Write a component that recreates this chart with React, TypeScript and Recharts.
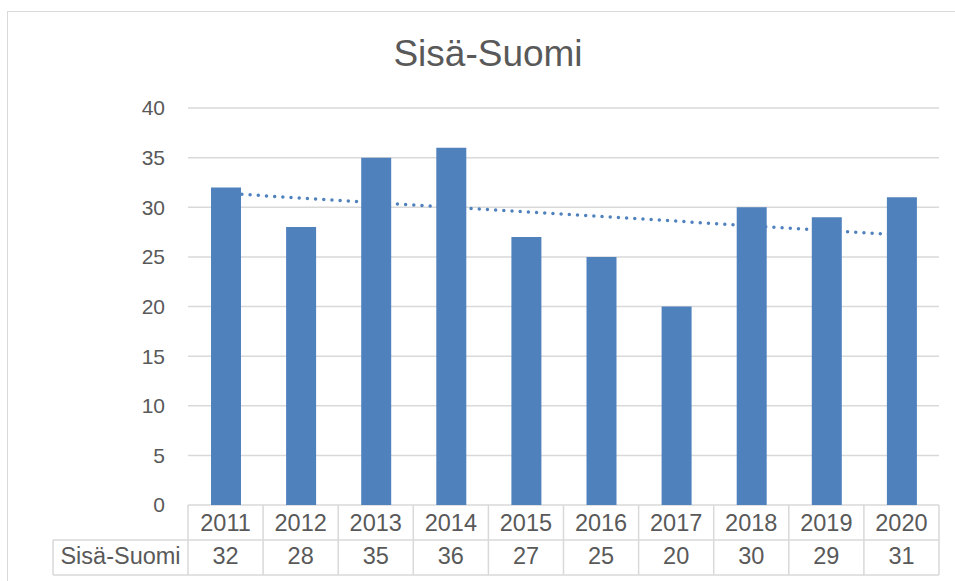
import React from 'react';
import { ComposedChart, Bar, XAxis, YAxis, CartesianGrid, ReferenceLine } from 'recharts';

const years = ['2011', '2012', '2013', '2014', '2015', '2016', '2017', '2018', '2019', '2020'];
const values = [32, 28, 35, 36, 27, 25, 20, 30, 29, 31];
const yTicks = [0, 5, 10, 15, 20, 25, 30, 35, 40];
const seriesName = 'Sisä-Suomi';
const titleText = 'Sisä-Suomi';
const trendStart = 31.4;
const trendEnd = 27.2;

const data = years.map((y, i) => ({ year: y, value: values[i] }));

const W = 955;
const H = 581;
const M = { top: 108, right: 16, bottom: 6, left: 128 };
const Y_W = 60;
const X_H = 70;
const PLOT_W = W - M.left - M.right - Y_W;
const BAND = PLOT_W / years.length;
const ROW = 35;
const LINE = '#d9d9d9';
const TEXT = '#595959';
const FONT = 'Liberation Sans, Arial, sans-serif';
const TFS = 23.5;

const TableTick = (props: any) => {
  const { x, y, payload } = props;
  const idx = payload.index;
  const left = x - BAND / 2;
  const right = x + BAND / 2;
  const top = y;
  const label = (
    <g>
      <line x1={right} y1={top} x2={right} y2={top + 2 * ROW} stroke={LINE} strokeWidth={1.5} />
      <text x={x} y={top + 26} textAnchor="middle" fill={TEXT} fontSize={TFS} fontFamily={FONT}>
        {payload.value}
      </text>
      <text x={x} y={top + ROW + 24} textAnchor="middle" fill={TEXT} fontSize={TFS} fontFamily={FONT}>
        {values[idx]}
      </text>
    </g>
  );
  if (idx !== 0) return label;
  const tableLeft = left - 135;
  const tableRight = left + PLOT_W;
  return (
    <g>
      <line x1={left} y1={top} x2={left} y2={top + 2 * ROW} stroke={LINE} strokeWidth={1.5} />
      <line x1={tableLeft} y1={top + ROW} x2={tableLeft} y2={top + 2 * ROW} stroke={LINE} strokeWidth={1.5} />
      <line x1={tableLeft} y1={top + ROW} x2={tableRight} y2={top + ROW} stroke={LINE} strokeWidth={1.5} />
      <line x1={tableLeft} y1={top + 2 * ROW} x2={tableRight} y2={top + 2 * ROW} stroke={LINE} strokeWidth={1.5} />
      <text x={(tableLeft + left) / 2} y={top + ROW + 24} textAnchor="middle" fill={TEXT} fontSize={TFS} fontFamily={FONT}>
        {seriesName}
      </text>
      {label}
    </g>
  );
};

export default function App() {
  return (
    <div style={{ position: 'absolute', left: 0, top: 0, width: W, height: H, overflow: 'hidden', background: '#fff' }}>
      <div
        style={{
          position: 'absolute',
          left: 7,
          top: 11,
          width: 1100,
          height: 900,
          border: `1.5px solid ${LINE}`,
        }}
      />
      <div
        style={{
          position: 'absolute',
          left: 8,
          width: 960,
          top: 32,
          textAlign: 'center',
          fontFamily: FONT,
          fontSize: 37,
          color: TEXT,
          lineHeight: '44px',
        }}
      >
        {titleText}
      </div>
      <div style={{ position: 'absolute', left: 0, top: 0 }}>
        <ComposedChart width={W} height={H} data={data} margin={M} barCategoryGap={0}>
          <CartesianGrid vertical={false} stroke={LINE} strokeWidth={1.5} />
          <XAxis
            dataKey="year"
            height={X_H}
            axisLine={false}
            tickLine={false}
            tickSize={0}
            tickMargin={0}
            interval={0}
            tick={<TableTick />}
          />
          <YAxis
            width={Y_W}
            domain={[0, 40]}
            ticks={yTicks}
            axisLine={false}
            tickLine={false}
            tickSize={0}
            tickMargin={23}
            tick={{ fill: TEXT, fontSize: 21, fontFamily: FONT }}
            interval={0}
          />
          <ReferenceLine
            segment={[
              { x: years[0], y: trendStart },
              { x: years[years.length - 1], y: trendEnd },
            ]}
            stroke="#4F81BD"
            strokeWidth={3.5}
            strokeDasharray="0 8.2"
            strokeLinecap="round"
          />
          <Bar dataKey="value" fill="#4F81BD" barSize={30} isAnimationActive={false} />
        </ComposedChart>
      </div>
    </div>
  );
}
